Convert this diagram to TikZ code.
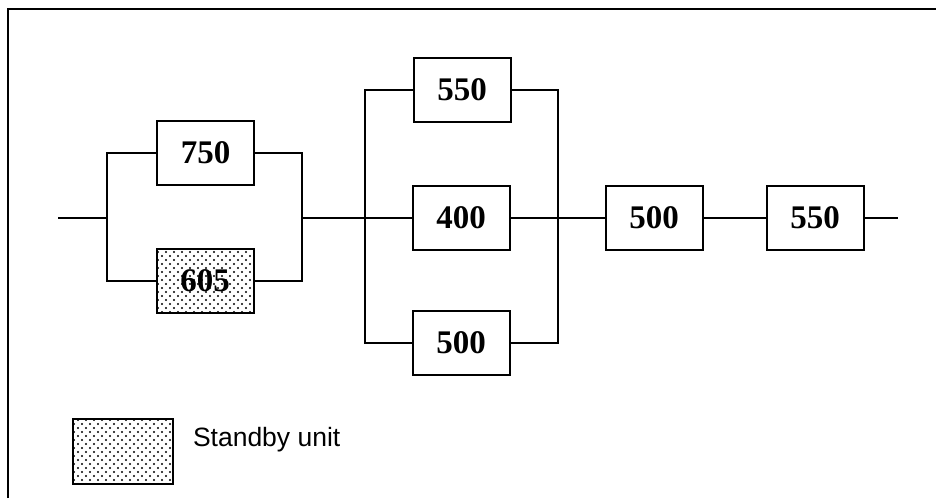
\documentclass[tikz,border=0pt]{standalone}
\usepackage{fontspec}
\setmainfont{Liberation Serif}
\newfontfamily\lsans{Liberation Sans}
\usetikzlibrary{patterns.meta}
\pgfdeclarepattern{
  name=stdots,
  type=uncolored,
  bottom left={\pgfpoint{-.1pt}{-.1pt}},
  top right={\pgfpoint{8.1pt}{8.1pt}},
  tile size={\pgfpoint{8pt}{8pt}},
  code={
    \pgfpathcircle{\pgfpoint{2pt}{2pt}}{1.15pt}
    \pgfpathcircle{\pgfpoint{6pt}{6pt}}{1.15pt}
    \pgfusepath{fill}
  }
}
\begin{document}
\begin{tikzpicture}[x=1pt,y=-1pt,
  line width=2pt,
  unit/.style={draw, rectangle, line width=2pt, minimum width=97pt, minimum height=64pt, inner sep=0pt,
    font=\fontsize{33}{33}\selectfont\bfseries},
  standby/.style={unit, pattern=stdots, pattern color=black},
  wire/.style={draw, line width=2pt}]
\useasboundingbox (0,0) rectangle (936,498);
% frame
\draw[line width=1.6pt] (8,498) -- (8,9) -- (936,9);
% junctions
\coordinate (in) at (58,218);
\coordinate (j1) at (107,218);
\coordinate (j2) at (302,218);
\coordinate (j3) at (365,218);
\coordinate (j4) at (558,218);
\coordinate (out) at (898,218);
% units
\node[unit] (b750) at (205.5,153) {750};
\node[standby] (b605) at (205,281) {605};
\node[unit] (b550a) at (462,90) {550};
\node[unit] (b400) at (461,218) {400};
\node[unit] (b500a) at (461,343) {500};
\node[unit] (b500s) at (654,218) {500};
\node[unit] (b550s) at (815,218) {550};
% connectors
\path[wire] (in) -- (j1);
\path[wire] (b750.west) -| (j1) |- (b605.west);
\path[wire] (b750.east) -| (j2) |- (b605.east);
\path[wire] (j2) -- (j3);
\path[wire] (b550a.west) -| (j3) |- (b500a.west);
\path[wire] (j3) -- (b400.west);
\path[wire] (b550a.east) -| (j4) |- (b500a.east);
\path[wire] (b400.east) -- (j4);
\path[wire] (j4) -- (b500s.west);
\path[wire] (b500s.east) -- (b550s.west);
\path[wire] (b550s.east) -- (out);
% legend
\node[standby, minimum width=100pt, minimum height=65pt] (leg) at (123,451.5) {};
\node[anchor=west, inner sep=0pt, font=\lsans\fontsize{26.5}{26.5}\selectfont] (legtext) at (192,440) {Standby unit};
\end{tikzpicture}
\end{document}
